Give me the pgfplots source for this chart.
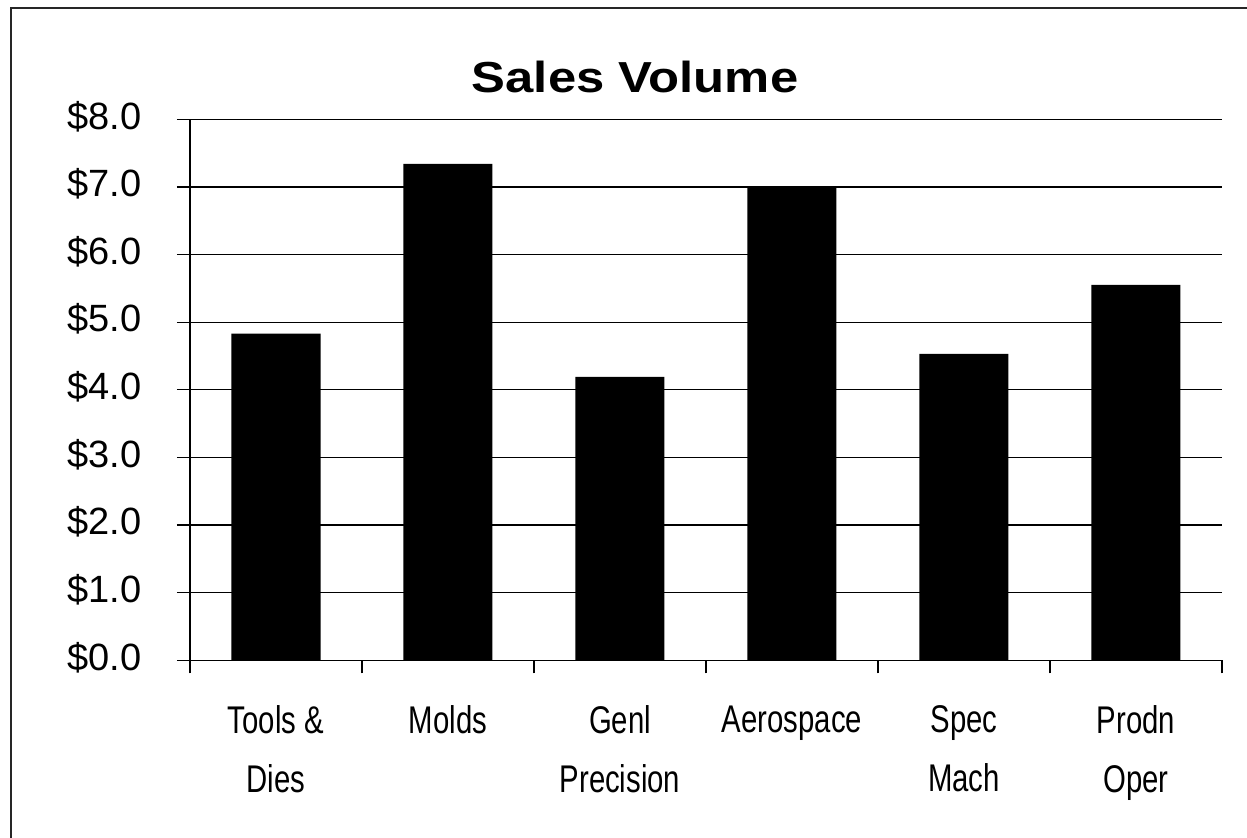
\documentclass[border=0pt]{standalone}
\usepackage{fontspec}
\setmainfont{Liberation Sans}
\newfontfamily\narrowfont[FakeStretch=0.76]{Liberation Sans}
\newfontfamily\titlefont[FakeStretch=1.17]{Liberation Sans}
\usepackage{pgfplots}
\pgfplotsset{compat=1.18}
\begin{document}
\begin{tikzpicture}
\useasboundingbox (0,0) rectangle (623.5pt,419pt);
\fill[white] (0,0) rectangle (623.5pt,419pt);
\draw[line width=1pt, black!85] (5.5pt,0) -- (5.5pt,415pt) -- (623.5pt,415pt);
\begin{axis}[
  at={(95pt,88.85pt)}, anchor=south west,
  scale only axis, width=516pt, height=270.5pt,
  xmin=0.5, xmax=6.5, ymin=0, ymax=8,
  axis x line*=bottom, axis y line*=left,
  axis line style={black, line width=0.6pt, -},
  ytick={0,...,8},
  yticklabel={\$\pgfmathprintnumber[fixed,fixed zerofill,precision=1]{\tick}},
  /pgf/number format/assume math mode=true,
  yticklabel style={font=\fontsize{19}{23}\selectfont, inner sep=0pt, xshift=-17.5pt, yshift=1.5pt},
  ymajorgrids, grid style={black, line width=0.6pt},
  tick align=outside, major tick length=6.5pt,
  tick style={black, line width=0.6pt},
  xtick={0.5,1.5,...,6.5},
  xticklabels={,,,,,,},
  extra x ticks={1,2,3,4,5,6},
  extra x tick labels={{Tools \&\\Dies},{Molds},{Genl\\Precision},{Aerospace},{Spec\\Mach},{Prodn\\Oper}},
  extra x tick style={major tick length=0pt, tick style={draw=none},
    xticklabel style={font=\narrowfont\fontsize{19.3}{29.5}\selectfont, align=center, anchor=north, inner sep=0pt, yshift=-22.5pt}},
  clip=false,
]
\addplot[ybar, bar width=44.5pt, fill=black, draw=none] coordinates {
  (1,4.83) (2,7.34) (3,4.19) (4,7.00) (5,4.53) (6,5.55)
};
\end{axis}
\node[anchor=base, font=\titlefont\bfseries\fontsize{21.7}{26}\selectfont] at (317.5pt,372.5pt) {Sales Volume};
\end{tikzpicture}
\end{document}
